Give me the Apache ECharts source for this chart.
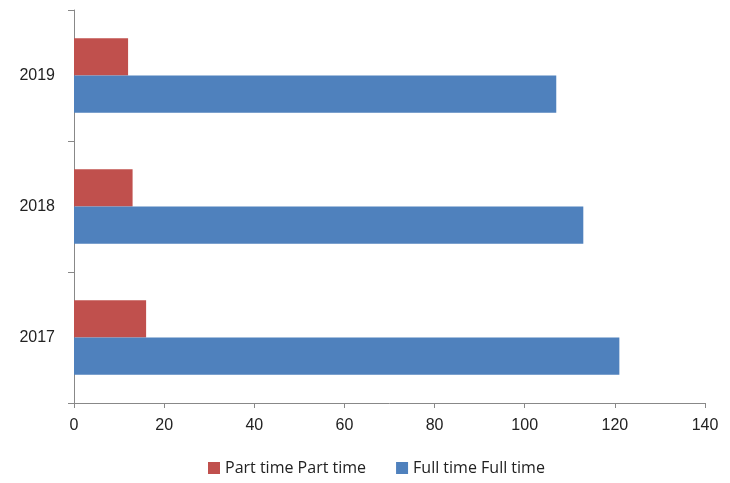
<!DOCTYPE html>
<html><head><meta charset="utf-8">
<script src="https://cdn.jsdelivr.net/npm/echarts@6/dist/echarts.min.js"></script>
<style>html,body{margin:0;padding:0;background:#fff}#c{width:730px;height:483px}</style>
</head><body><div id="c"></div>
<script>
const categories = ['2017', '2018', '2019'];
const partTime = [16, 13, 12];
const fullTime = [121, 113, 107];
const xTicks = { min: 0, max: 140, interval: 20 };

const chart = echarts.init(document.getElementById('c'));
const font = 'Liberation Sans';
chart.setOption({
  animation: false,
  textStyle: { fontFamily: font },
  grid: { left: 74, right: 25, top: 10, bottom: 80 },
  legend: {
    top: 455, left: 203, itemWidth: 12, itemHeight: 12, itemGap: 30, icon: 'rect',
    textStyle: { fontSize: 16, color: '#222', fontFamily: 'Open Sans' },
    data: ['Part time Part time', 'Full time Full time']
  },
  xAxis: {
    type: 'value', min: xTicks.min, max: xTicks.max, interval: xTicks.interval,
    axisLine: { show: true, lineStyle: { color: '#888' } },
    axisTick: { show: true, length: 5, lineStyle: { color: '#888' } },
    splitLine: { show: false },
    axisLabel: { fontSize: 16, color: '#222', margin: 15, fontFamily: font }
  },
  yAxis: {
    type: 'category', data: categories,
    axisLine: { show: true, lineStyle: { color: '#888' } },
    axisTick: { show: true, length: 6, lineStyle: { color: '#888' } },
    axisLabel: { fontSize: 16, color: '#222', margin: 19, fontFamily: font }
  },
  series: [
    { name: 'Part time Part time', type: 'bar', data: partTime, itemStyle: { color: '#C0504D' }, barGap: '0%', barCategoryGap: '43%' },
    { name: 'Full time Full time', type: 'bar', data: fullTime, itemStyle: { color: '#4F81BD' }, barGap: '0%', barCategoryGap: '43%' }
  ]
});
</script></body></html>
